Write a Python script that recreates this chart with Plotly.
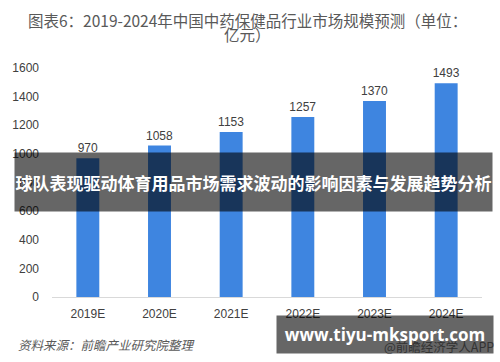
import plotly.graph_objects as go

categories = ["2019E", "2020E", "2021E", "2022E", "2023E", "2024E"]
values = [970, 1058, 1153, 1257, 1370, 1493]
y_ticks = [0, 200, 400, 600, 800, 1000, 1200, 1400, 1600]

title_line1 = "图表6：2019-2024年中国中药保健品行业市场规模预测（单位："
title_line2 = "亿元）"
banner_text = "球队表现驱动体育用品市场需求波动的影响因素与发展趋势分析"
source_text = "资料来源：前瞻产业研究院整理"
credit_text = "@前瞻经济学人APP"
site_text = "www.tiyu-mksport.com"

CJK = "Noto Sans CJK SC"
LAT = "Liberation Sans, Arial, sans-serif"

fig = go.Figure()
fig.add_trace(go.Bar(
    x=categories, y=values,
    marker=dict(color="#3E85E0", line=dict(width=0)),
    text=[str(v) for v in values], textposition="outside",
    textfont=dict(family=LAT, size=12, color="#404040"),
    constraintext="none",
    cliponaxis=False, width=0.32,
))

L, R, T, B = 50, 18, 68, 65
W, H = 500, 362
pw = W - L - R
ph = H - T - B


def px(x):
    return (x - L) / pw


def py(y):
    return (H - B - y) / ph


fig.update_layout(
    width=W, height=H,
    margin=dict(l=L, r=R, t=T, b=B),
    paper_bgcolor="white", plot_bgcolor="white",
    showlegend=False,
    xaxis=dict(
        showgrid=False, showline=True, linecolor="#D9D9D9", linewidth=1,
        ticks="", tickfont=dict(family=LAT, size=12, color="#404040"),
        ticklabelstandoff=6,
    ),
    yaxis=dict(
        range=[0, 1600], tickvals=y_ticks, showgrid=False, zeroline=False,
        showline=False, ticks="", tickfont=dict(family=LAT, size=12, color="#404040"),
        ticklabelstandoff=12,
    ),
    annotations=[
        dict(text=title_line1, xref="paper", yref="paper", x=px(246), xanchor="center",
             y=py(20), yanchor="middle", showarrow=False,
             font=dict(family=CJK, size=15.5, color="#595959")),
        dict(text=title_line2, xref="paper", yref="paper", x=px(246), xanchor="center",
             y=py(34), yanchor="middle", showarrow=False,
             font=dict(family=CJK, size=15.5, color="#595959")),
        dict(text=source_text, xref="paper", yref="paper", x=px(14), xanchor="left",
             y=py(344), yanchor="middle", showarrow=False,
             font=dict(family=CJK, size=12.5, color="#595959", style="italic")),
        dict(text=credit_text, xref="paper", yref="paper", x=px(382), xanchor="left",
             y=py(346), yanchor="middle", showarrow=False,
             font=dict(family=CJK, size=12.5, color="#7F7F7F")),
        dict(text="<b>" + banner_text + "</b>", xref="paper", yref="paper",
             x=px(12), xanchor="left", y=py(152), yanchor="top", showarrow=False,
             width=477, height=58, bgcolor="rgba(0,0,0,0.6)", borderpad=0,
             align="center", valign="middle",
             font=dict(family=CJK, size=17, color="white")),
        dict(text="<b>" + site_text + "</b>", xref="paper", yref="paper",
             x=px(275), xanchor="left", y=py(315), yanchor="top", showarrow=False,
             width=216, height=37, bgcolor="rgba(0,0,0,0.6)", borderpad=0,
             align="center", valign="middle",
             font=dict(family="Open Sans, sans-serif", size=17, color="white")),
    ],
)

fig.write_html("out.html", config={"displayModeBar": False},
               post_script="document.body.style.margin='0';")
